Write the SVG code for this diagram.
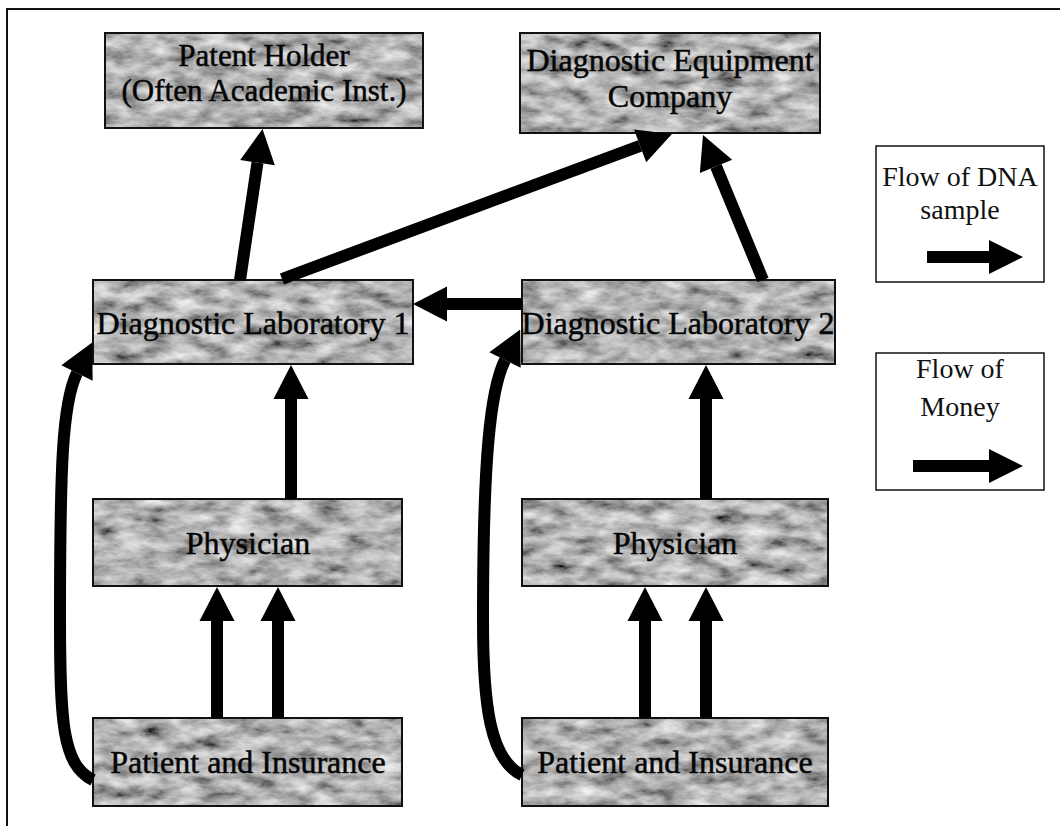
<svg xmlns="http://www.w3.org/2000/svg" width="1060" height="826" viewBox="0 0 1060 826">
<defs>
<filter id="tex" x="0" y="0" width="1" height="1">
<feTurbulence type="fractalNoise" baseFrequency="0.035 0.08" numOctaves="5" seed="7" result="n"/>
<feColorMatrix in="n" type="matrix" values="1.1 0 0 0 -0.1  1.1 0 0 0 -0.1  1.1 0 0 0 -0.1  0 0 0 0 1" result="g"/>
<feComposite in="g" in2="SourceGraphic" operator="in"/>
</filter>
<marker id="ah" markerUnits="userSpaceOnUse" markerWidth="34" markerHeight="35" refX="0" refY="17.5" orient="auto" overflow="visible">
<path d="M0,0 L34,17.5 L0,35 z" fill="#000"/>
</marker>
</defs>
<style>
.bg{fill:#999;filter:url(#tex)}
.bd{fill:none;stroke:#111;stroke-width:2}
.nt{font-family:"Liberation Serif","Times New Roman",serif;font-size:32px;fill:#050505;stroke:#050505;stroke-width:0.5;text-anchor:middle}
.sm{font-size:31px}
.lt{font-family:"Liberation Serif","Times New Roman",serif;font-size:28px;fill:#111;text-anchor:middle}
.lb{fill:#fff;stroke:#111;stroke-width:1.5}
.c{fill:none;stroke:#000;stroke-width:12;marker-end:url(#ah)}
.la{fill:#000}
.fr{fill:none;stroke:#111;stroke-width:2}
</style>
<rect width="1060" height="826" fill="#fff"/>
<path class="fr" d="M7,826 L7,9 L1060,9"/>

<g id="patent-holder">
<rect class="bg" x="105" y="33" width="318" height="95"/>
<rect class="bd" x="105" y="33" width="318" height="95"/>
<text class="nt sm" x="264" y="66">Patent Holder</text>
<text class="nt sm" x="264" y="101">(Often Academic Inst.)</text>
</g>
<g id="diagnostic-equipment-company">
<rect class="bg" x="520" y="33" width="300" height="100"/>
<rect class="bd" x="520" y="33" width="300" height="100"/>
<text class="nt" x="670" y="71">Diagnostic Equipment</text>
<text class="nt" x="670" y="107">Company</text>
</g>
<g id="diagnostic-laboratory-1">
<rect class="bg" x="93" y="280" width="320" height="84"/>
<rect class="bd" x="93" y="280" width="320" height="84"/>
<text class="nt" x="253" y="334">Diagnostic Laboratory 1</text>
</g>
<g id="diagnostic-laboratory-2">
<rect class="bg" x="522" y="280" width="313" height="84"/>
<rect class="bd" x="522" y="280" width="313" height="84"/>
<text class="nt" x="678" y="334">Diagnostic Laboratory 2</text>
</g>
<g id="physician-1">
<rect class="bg" x="93" y="499" width="309" height="87"/>
<rect class="bd" x="93" y="499" width="309" height="87"/>
<text class="nt" x="248" y="554">Physician</text>
</g>
<g id="physician-2">
<rect class="bg" x="522" y="499" width="306" height="87"/>
<rect class="bd" x="522" y="499" width="306" height="87"/>
<text class="nt" x="675" y="554">Physician</text>
</g>
<g id="patient-1">
<rect class="bg" x="93" y="718" width="309" height="88"/>
<rect class="bd" x="93" y="718" width="309" height="88"/>
<text class="nt" x="248" y="773">Patient and Insurance</text>
</g>
<g id="patient-2">
<rect class="bg" x="522" y="718" width="306" height="88"/>
<rect class="bd" x="522" y="718" width="306" height="88"/>
<text class="nt" x="675" y="773">Patient and Insurance</text>
</g>

<g id="legend-dna">
<rect class="lb" x="876" y="146" width="168" height="136"/>
<text class="lt" x="960" y="186">Flow of DNA</text>
<text class="lt" x="960" y="219">sample</text>
<path class="la" d="M927,251 L989,251 L989,240 L1023,257 L989,274 L989,263 L927,263 z"/>
</g>
<g id="legend-money">
<rect class="lb" x="876" y="353" width="168" height="137"/>
<text class="lt" x="960" y="378">Flow of</text>
<text class="lt" x="960" y="416">Money</text>
<path class="la" d="M913,460 L989,460 L989,449 L1023,466 L989,483 L989,472 L913,472 z"/>
</g>

<g id="connectors">
<path class="c" d="M240,280 L257.5,162.6"/>
<path class="c" d="M282,279 L640.1,145.8"/>
<path class="c" d="M763,280 L716,166.4"/>
<path class="c" d="M522,304 L447,304"/>
<path class="c" d="M291,499 L291,399"/>
<path class="c" d="M706,499 L706,399"/>
<path class="c" d="M217,718 L217,621"/>
<path class="c" d="M278,718 L278,621"/>
<path class="c" d="M645,718 L645,621"/>
<path class="c" d="M706,718 L706,621"/>
<path class="c" d="M93,780 C62,765 60,720 60,620 C60,470 62,403 77,373"/>
<path class="c" d="M522,775 C490,760 483,705 483,620 C483,460 490,390 505,360"/>
</g>
</svg>
